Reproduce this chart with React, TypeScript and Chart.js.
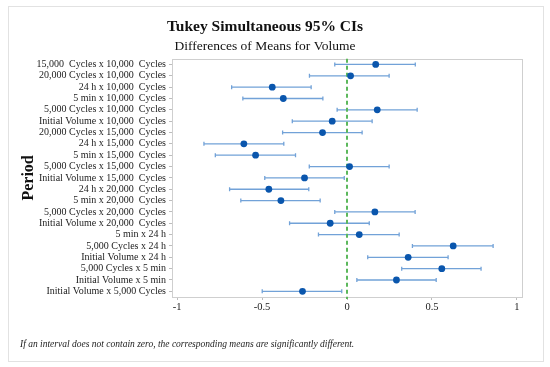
import React, { useEffect, useRef } from "react";
import { Chart, registerables } from "chart.js";

Chart.register(...registerables);

const comparisons: string[] = [
  "15,000  Cycles x 10,000  Cycles",
  "20,000 Cycles x 10,000  Cycles",
  "24 h x 10,000  Cycles",
  "5 min x 10,000  Cycles",
  "5,000 Cycles x 10,000  Cycles",
  "Initial Volume x 10,000  Cycles",
  "20,000 Cycles x 15,000  Cycles",
  "24 h x 15,000  Cycles",
  "5 min x 15,000  Cycles",
  "5,000 Cycles x 15,000  Cycles",
  "Initial Volume x 15,000  Cycles",
  "24 h x 20,000  Cycles",
  "5 min x 20,000  Cycles",
  "5,000 Cycles x 20,000  Cycles",
  "Initial Volume x 20,000  Cycles",
  "5 min x 24 h",
  "5,000 Cycles x 24 h",
  "Initial Volume x 24 h",
  "5,000 Cycles x 5 min",
  "Initial Volume x 5 min",
  "Initial Volume x 5,000 Cycles",
];

const centers: number[] = [
  0.169, 0.021, -0.44, -0.375, 0.178, -0.087, -0.144, -0.607, -0.538, 0.015,
  -0.25, -0.46, -0.389, 0.164, -0.099, 0.072, 0.625, 0.36, 0.558, 0.291, -0.262,
];

const lowers: number[] = [
  -0.072, -0.221, -0.679, -0.613, -0.058, -0.322, -0.379, -0.842, -0.775, -0.222,
  -0.484, -0.691, -0.625, -0.072, -0.338, -0.168, 0.385, 0.122, 0.322, 0.058, -0.499,
];

const uppers: number[] = [
  0.402, 0.248, -0.211, -0.142, 0.413, 0.148, 0.089, -0.372, -0.303, 0.248,
  -0.016, -0.225, -0.158, 0.401, 0.131, 0.307, 0.86, 0.595, 0.789, 0.525, -0.031,
];

const xTicks: number[] = [-1, -0.5, 0, 0.5, 1];

const titleText = "Tukey Simultaneous 95% CIs";
const subtitleText = "Differences of Means for Volume";
const yAxisTitle = "Period";
const footnote =
  "If an interval does not contain zero, the corresponding means are significantly different.";

const SERIF = "'Liberation Serif', 'Times New Roman', serif";

export default function App() {
  const canvasRef = useRef<HTMLCanvasElement | null>(null);

  useEffect(() => {
    const canvas = canvasRef.current;
    if (!canvas) return;

    const intervalPlugin = {
      id: "intervals",
      beforeDatasetsDraw(chart: any) {
        const { ctx, chartArea } = chart;
        const xs = chart.scales.x;
        const ys = chart.scales.y;
        ctx.save();
        // plot border
        ctx.strokeStyle = "#cfcfcf";
        ctx.lineWidth = 1;
        ctx.strokeRect(
          Math.round(chartArea.left) + 0.5,
          Math.round(chartArea.top) + 0.5,
          Math.round(chartArea.right - chartArea.left),
          Math.round(chartArea.bottom - chartArea.top)
        );
        // interval bars
        ctx.strokeStyle = "#72a2d8";
        ctx.lineWidth = 1.3;
        for (let i = 0; i < centers.length; i++) {
          const py = ys.getPixelForValue(i);
          const x1 = xs.getPixelForValue(lowers[i]);
          const x2 = xs.getPixelForValue(uppers[i]);
          ctx.beginPath();
          ctx.moveTo(x1, py);
          ctx.lineTo(x2, py);
          ctx.moveTo(x1, py - 2);
          ctx.lineTo(x1, py + 2);
          ctx.moveTo(x2, py - 2);
          ctx.lineTo(x2, py + 2);
          ctx.stroke();
        }
        // zero reference line
        const x0 = xs.getPixelForValue(0);
        ctx.strokeStyle = "#5cb85c";
        ctx.lineWidth = 2;
        ctx.setLineDash([4, 3]);
        ctx.beginPath();
        ctx.moveTo(x0, chartArea.top);
        ctx.lineTo(x0, chartArea.bottom + 2);
        ctx.stroke();
        ctx.restore();
      },
    };

    const chart = new Chart(canvas, {
      type: "scatter",
      data: {
        datasets: [
          {
            label: "Difference of means",
            data: centers.map((c, i) => ({ x: c, y: i })),
            backgroundColor: "#0a56ad",
            borderColor: "#0a56ad",
            borderWidth: 0,
            pointRadius: 3.4,
            pointHoverRadius: 3.4,
          },
        ],
      },
      options: {
        responsive: false,
        animation: false,
        devicePixelRatio: 1,
        layout: { padding: { left: 8, right: 28, top: 8, bottom: 50 } },
        plugins: {
          legend: { display: false },
          tooltip: { enabled: false },
          title: {
            display: true,
            text: titleText,
            color: "#111",
            font: { family: SERIF, size: 15.5, weight: "bold", lineHeight: 1.2 },
            padding: { top: 10, bottom: 0 },
          },
          subtitle: {
            display: true,
            text: subtitleText,
            color: "#111",
            font: { family: SERIF, size: 13.5, lineHeight: 1.2 },
            padding: { top: 2, bottom: 4 },
          },
        },
        scales: {
          x: {
            type: "linear",
            min: -1.03,
            max: 1.03,
            afterBuildTicks: (scale: any) => {
              scale.ticks = xTicks.map((v) => ({ value: v }));
            },
            afterFit: (scale: any) => {
              scale.height = 20;
            },
            grid: {
              drawOnChartArea: false,
              drawTicks: true,
              tickLength: 3,
              color: "#bdbdbd",
            },
            border: { display: false },
            ticks: {
              padding: 1,
              color: "#222",
              font: { family: SERIF, size: 10.5 },
              callback: (v: any) => String(v),
            },
          },
          y: {
            type: "linear",
            reverse: true,
            min: -0.5,
            max: 20.5,
            afterBuildTicks: (scale: any) => {
              scale.ticks = comparisons.map((_, i) => ({ value: i }));
            },
            afterFit: (scale: any) => {
              scale.width = 164;
            },
            grid: {
              drawOnChartArea: false,
              drawTicks: true,
              tickLength: 3,
              color: "#bdbdbd",
            },
            border: { display: false },
            title: {
              display: true,
              text: yAxisTitle,
              color: "#111",
              font: { family: SERIF, size: 16, weight: "bold", lineHeight: 1.2 },
              padding: { top: 11, bottom: 0 },
            },
            ticks: {
              autoSkip: false,
              padding: 3,
              color: "#222",
              font: { family: SERIF, size: 10 },
              callback: (v: any) => comparisons[Math.round(Number(v))] ?? "",
            },
          },
        },
      },
      plugins: [intervalPlugin],
    } as any);

    return () => {
      chart.destroy();
    };
  }, []);

  return (
    <div
      style={{
        position: "absolute",
        left: 0,
        top: 0,
        width: 550,
        height: 367,
        background: "#fff",
        overflow: "hidden",
      }}
    >
      <div
        style={{
          position: "absolute",
          left: 8,
          top: 6,
          width: 534,
          height: 354,
          border: "1px solid #e2e2e2",
          background: "#fff",
        }}
      />
      <canvas
        ref={canvasRef}
        width={550}
        height={367}
        style={{ position: "absolute", left: 0, top: 0, width: 550, height: 367 }}
      />
      <div
        style={{
          position: "absolute",
          left: 20,
          top: 338,
          fontFamily: SERIF,
          fontStyle: "italic",
          fontSize: 9.5,
          color: "#222",
          whiteSpace: "nowrap",
          lineHeight: "12px",
        }}
      >
        {footnote}
      </div>
    </div>
  );
}
